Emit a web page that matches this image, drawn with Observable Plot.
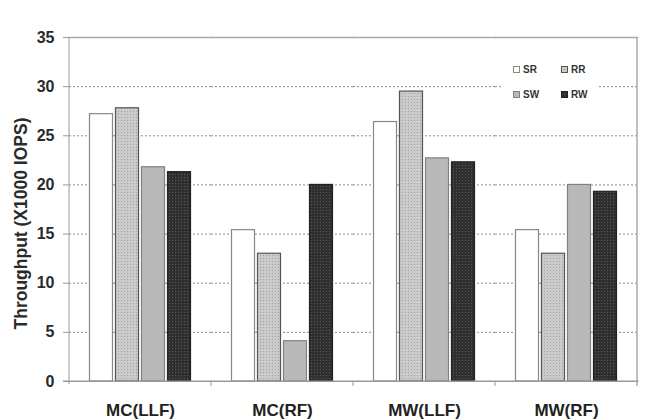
<!DOCTYPE html>
<html>
<head>
<meta charset="utf-8">
<script src="https://cdn.jsdelivr.net/npm/d3@7"></script>
<script src="https://cdn.jsdelivr.net/npm/@observablehq/plot@0.6"></script>
<style>
  body { margin: 0; background: #fff; font-family: Arial, "Liberation Sans", sans-serif; }
  #wrap { position: relative; width: 649px; height: 420px; }
  #legend { position: absolute; left: 503px; top: 56px; width: 96px; height: 48px; background: #fff;
    display: grid; grid-template-columns: 48px 48px; row-gap: 8px; padding-top: 6px; box-sizing: border-box; padding-left: 10px; }
  .li { display: flex; align-items: center; font-size: 10px; font-weight: bold; color: #333; height: 14px; }
</style>
</head>
<body>
<svg width="0" height="0" style="position:absolute">
  <defs>
    <pattern id="dotsLight" width="3" height="3" patternUnits="userSpaceOnUse">
      <rect width="3" height="3" fill="#cbcbcb"></rect>
      <rect width="1" height="1" fill="#a0a0a0"></rect>
    </pattern>
    <pattern id="dotsDark" width="3" height="3" patternUnits="userSpaceOnUse">
      <rect width="3" height="3" fill="#2f2f2f"></rect>
      <rect width="1" height="1" fill="#5a5a5a"></rect>
    </pattern>
  </defs>
</svg>
<div id="wrap"><div id="chart"></div><div id="legend"></div></div>
<script>
const categories = ["MC(LLF)", "MC(RF)", "MW(LLF)", "MW(RF)"];
const seriesNames = ["SR", "RR", "SW", "RW"];
const SR = [27.2, 15.4, 26.4, 15.4];
const RR = [27.8, 13.0, 29.5, 13.0];
const SW = [21.8, 4.1, 22.7, 20.0];
const RW = [21.3, 20.0, 22.3, 19.3];
const yTicks = [0, 5, 10, 15, 20, 25, 30, 35];
const yLabel = "Throughput (X1000 IOPS)";

const seriesValues = {SR, RR, SW, RW};
const fills = ["#ffffff", "url(#dotsLight)", "#b9b9b9", "url(#dotsDark)"];
const strokes = ["#888888", "#555555", "#808080", "#222222"];

const data = [];
categories.forEach((c, i) => seriesNames.forEach(s => data.push({category: c, series: s, value: seriesValues[s][i]})));

const chart = Plot.plot({
  width: 649,
  height: 420,
  marginLeft: 68,
  marginRight: 12,
  marginTop: 37,
  marginBottom: 39,
  style: {fontFamily: "Arial, 'Liberation Sans', sans-serif", background: "#fff"},
  fx: {domain: categories, padding: 0},
  x: {domain: seriesNames, paddingInner: 0.08, paddingOuter: 0.7, axis: null},
  y: {domain: [0, 35]},
  color: {domain: seriesNames, range: fills},
  marks: [
    Plot.gridY(yTicks.filter(d => d > 0 && d < 35), {stroke: "#8a8a8a", strokeOpacity: 1, strokeDasharray: "2,2"}),
    Plot.frame({anchor: "top", stroke: "#aaaaaa", strokeWidth: 1.5}),
    Plot.barY(data, {fx: "category", x: "series", y: "value", fill: "series",
      stroke: d => strokes[seriesNames.indexOf(d.series)], strokeWidth: 1.2, insetLeft: 0.5, insetRight: 0.5}),
    Plot.ruleY([0], {stroke: "#999999"}),
    Plot.axisY(yTicks, {tickSize: 6, tickPadding: 9, fontSize: 16, fontWeight: "bold", fill: "#2a2a2a",
      stroke: "#999", label: null}),
    Plot.axisFx({anchor: "bottom", tickSize: 0, tickPadding: 22, fontSize: 17, fontWeight: "bold", fill: "#222", label: null})
  ]
});

// y axis line, right frame line, group boundary ticks and y title using the plot's scales
const svg = d3.select(chart);
const fx = chart.scale("fx");
const y = chart.scale("y");
const g = svg.append("g").attr("stroke", "#999").attr("fill", "none");
const left = fx.apply(categories[0]);
const right = fx.apply(categories[categories.length - 1]) + fx.bandwidth;
g.append("line").attr("x1", left).attr("x2", left).attr("y1", y.apply(35)).attr("y2", y.apply(0) + 3);
g.append("line").attr("x1", right).attr("x2", right).attr("y1", y.apply(35)).attr("y2", y.apply(0) + 5).attr("stroke", "#aaa").attr("stroke-width", 1.5);
g.append("line").attr("x1", left - 6).attr("x2", right + 2).attr("y1", y.apply(0)).attr("y2", y.apply(0));
categories.slice(1).forEach(c => {
  const bx = fx.apply(c);
  g.append("line").attr("x1", bx).attr("x2", bx).attr("y1", y.apply(0)).attr("y2", y.apply(0) + 5);
});
const cy = (y.apply(0) + y.apply(35)) / 2 + 14.5;
svg.append("text")
  .attr("transform", `translate(${left - 48.5},${cy}) rotate(-90)`)
  .attr("text-anchor", "middle")
  .attr("dy", "0.35em")
  .attr("font-size", 17.5)
  .attr("font-weight", "bold")
  .attr("fill", "#2a2a2a")
  .text(yLabel);

document.getElementById("chart").appendChild(chart);

// legend
const legend = document.getElementById("legend");
seriesNames.forEach((s, i) => {
  const item = document.createElement("div");
  item.className = "li";
  const sw = document.createElementNS("http://www.w3.org/2000/svg", "svg");
  sw.setAttribute("width", 7); sw.setAttribute("height", 7);
  sw.style.marginRight = "3px";
  const r = document.createElementNS("http://www.w3.org/2000/svg", "rect");
  r.setAttribute("x", 0.5); r.setAttribute("y", 0.5); r.setAttribute("width", 6); r.setAttribute("height", 6);
  r.setAttribute("fill", fills[i]); r.setAttribute("stroke", strokes[i]);
  sw.appendChild(r);
  item.appendChild(sw);
  item.appendChild(document.createTextNode(s));
  legend.appendChild(item);
});
</script>
</body>
</html>
